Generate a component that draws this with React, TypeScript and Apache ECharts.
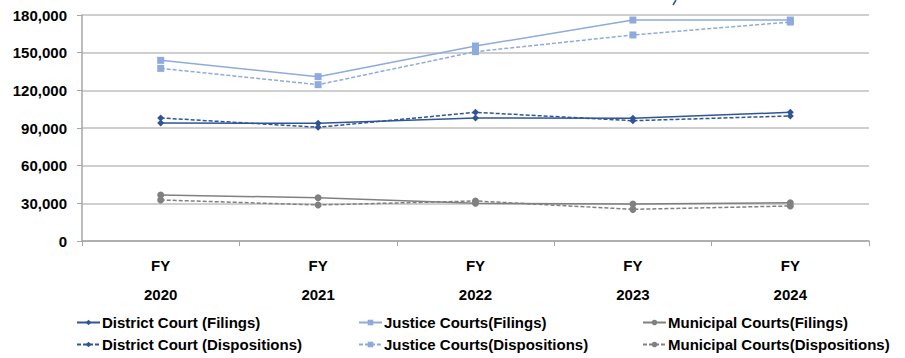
import React, { useEffect, useRef } from "react";
import * as echarts from "echarts";

const categories = ["FY\n2020", "FY\n2021", "FY\n2022", "FY\n2023", "FY\n2024"];
const districtFilings = [94000, 93700, 98000, 97700, 102500];
const districtDispositions = [98000, 90600, 102500, 95800, 99600];
const justiceFilings = [143900, 130900, 155300, 176000, 176000];
const justiceDispositions = [137500, 124500, 150800, 164100, 174400];
const municipalFilings = [36600, 34500, 30000, 29500, 30500];
const municipalDispositions = [32700, 28700, 31900, 25200, 27900];
const yTicks = [0, 30000, 60000, 90000, 120000, 150000, 180000];

const FONT = "'Liberation Sans', Arial, sans-serif";
const DARK = "#2F5597";
const LIGHT = "#8FAADC";
const GRAY = "#808080";

export default function App() {
  const ref = useRef<HTMLDivElement>(null);
  useEffect(() => {
    if (!ref.current) return;
    const chart = echarts.init(ref.current, undefined, { renderer: "svg" });
    const mk = (name: string, data: number[], color: string, dashed: boolean, symbol: string, size: number) => ({
      name,
      type: "line",
      data,
      symbol,
      symbolSize: size,
      showSymbol: true,
      lineStyle: { color, width: 1.5, type: dashed ? [4, 2] : "solid" },
      itemStyle: { color },
      z: 3,
    });
    const series = [
      mk("District Court (Filings)", districtFilings, DARK, false, "diamond", 7),
      mk("Justice Courts(Filings)", justiceFilings, LIGHT, false, "rect", 7),
      mk("Municipal Courts(Filings)", municipalFilings, GRAY, false, "circle", 7),
      mk("District Court (Dispositions)", districtDispositions, DARK, true, "diamond", 7),
      mk("Justice Courts(Dispositions)", justiceDispositions, LIGHT, true, "rect", 7),
      mk("Municipal Courts(Dispositions)", municipalDispositions, GRAY, true, "circle", 7),
    ];
    const legendPos = [
      [76, 315], [358, 315], [642, 315],
      [76, 337], [358, 337], [642, 337],
    ];
    const legends = series.map((s, i) => ({
      data: [s.name],
      left: legendPos[i][0],
      top: legendPos[i][1],
      itemWidth: 23,
      itemHeight: 7,
      itemGap: 2,
      textStyle: { fontFamily: FONT, fontWeight: "bold", fontSize: 15, color: "#000", padding: [0, 0, 0, -3] },
      padding: 0,
    }));
    chart.setOption({
      animation: false,
      backgroundColor: "#fff",
      grid: { left: 82, right: 36, top: 15, bottom: 117, containLabel: false },
      legend: legends,
      xAxis: {
        type: "category",
        data: categories,
        boundaryGap: true,
        axisLine: { lineStyle: { color: "#A6A6A6", width: 1.5 } },
        axisTick: { show: true, length: 5, inside: false, lineStyle: { color: "#A6A6A6", width: 1 } },
        axisLabel: {
          fontFamily: FONT,
          fontWeight: "bold",
          fontSize: 15,
          color: "#000",
          lineHeight: 29,
          margin: 10,
        },
      },
      yAxis: {
        type: "value",
        min: 0,
        max: 180000,
        interval: 30000,
        axisLine: { show: true, lineStyle: { color: "#A6A6A6", width: 1.5 } },
        axisTick: { show: true, length: 5, lineStyle: { color: "#A6A6A6" } },
        splitLine: { lineStyle: { color: "#BFBFBF", width: 1.5 } },
        axisLabel: {
          fontFamily: FONT,
          fontWeight: "bold",
          fontSize: 15,
          color: "#000",
          margin: 15,
          formatter: (v: number) => (yTicks.includes(v) ? v.toLocaleString("en-US") : ""),
        },
      },
      graphic: [
        {
          type: "line",
          shape: { x1: 673, y1: 5, x2: 676, y2: 0 },
          style: { stroke: DARK, lineWidth: 1.5 },
        },
      ],
      series,
    });
    return () => chart.dispose();
  }, []);
  return <div ref={ref} style={{ width: 905, height: 358, position: "absolute", left: 0, top: 0 }} />;
}
